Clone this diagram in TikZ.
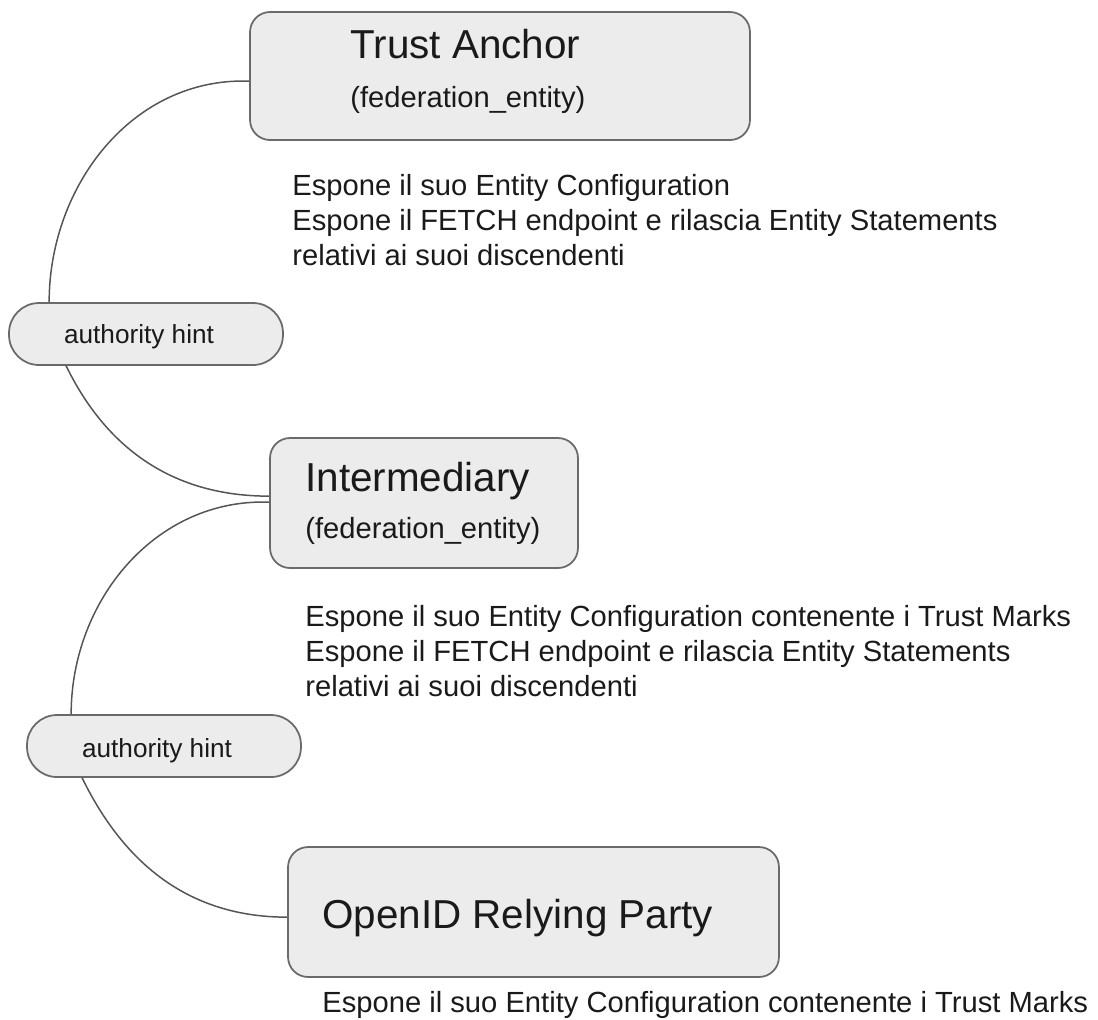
\documentclass[tikz,border=0pt]{standalone}
\usepackage{fontspec}
\setmainfont{Liberation Sans}
\usetikzlibrary{calc}
\definecolor{boxfill}{HTML}{ECECEC}
\definecolor{boxline}{HTML}{6A6A6A}
\definecolor{linkline}{HTML}{555555}
\definecolor{inkcol}{HTML}{1A1A1A}

\begin{document}
\begin{tikzpicture}[x=0.02cm, y=-0.02cm, text=inkcol,
    entity/.style={draw=boxline, line width=1pt, fill=boxfill, rounded corners=0.4cm, inner sep=0pt},
    hint/.style={draw=boxline, line width=1pt, fill=boxfill, rounded corners=0.6cm,
        minimum width=5.48cm, minimum height=1.24cm, inner sep=0pt},
    title/.style={anchor=base west, inner sep=0pt, font=\fontsize{23}{27}\selectfont},
    sub/.style={anchor=base west, inner sep=0pt, font=\fontsize{16.6}{19.8}\selectfont},
    info/.style={anchor=base west, inner sep=0pt, align=left, font=\fontsize{16.6}{19.8}\selectfont},
    hinttext/.style={anchor=base, inner sep=0pt, font=\fontsize{14.9}{18}\selectfont},
    link/.style={draw=linkline, line width=0.85pt}]

    \useasboundingbox (0,0) rectangle (1098,1019);

    % Draw the entity boxes
    \node[entity, minimum width=10cm, minimum height=2.56cm] (ta) at (500,76) {};
    \node[entity, minimum width=6.16cm, minimum height=2.6cm] (inter) at (424,503) {};
    \node[entity, minimum width=9.82cm, minimum height=2.6cm] (rp) at (533.5,912) {};

    % Draw the authority hint pills
    \node[hint] (hint1) at (146,334) {};
    \node[hint] (hint2) at (164,746) {};

    % Draw the links between them
    \draw[link] ($(ta.north west)+(0,70)$) to[out=178, in=90] ($(hint1.north west)+(41,0)$);
    \draw[link] ($(hint1.south west)+(58,0)$) to[out=-64, in=180] ($(inter.north west)+(0,59)$);
    \draw[link] ($(inter.north west)+(0,65)$) to[out=178, in=90] ($(hint2.north west)+(45,0)$);
    \draw[link] ($(hint2.south west)+(56,0)$) to[out=-64, in=180] ($(rp.north west)+(0,71)$);

    % Box texts
    \node[title] (tatitle) at (350,58) {Trust Anchor};
    \node[sub] (tasub) at (350,107) {(federation\_entity)};
    \node[title] (intertitle) at (305,491) {Intermediary};
    \node[sub] (intersub) at (305,538) {(federation\_entity)};
    \node[title] (rptitle) at (322,928) {OpenID Relying Party};
    \node[hinttext] (hint1text) at (139,343) {authority hint};
    \node[hinttext] (hint2text) at (157,757) {authority hint};

    % Descriptions (anchored on the last line)
    \node[info] (tainfo) at (292,265) {Espone il suo Entity Configuration\\
        Espone il FETCH endpoint e rilascia Entity Statements\\
        relativi ai suoi discendenti};
    \node[info] (interinfo) at (305,696) {Espone il suo Entity Configuration contenente i Trust Marks\\
        Espone il FETCH endpoint e rilascia Entity Statements\\
        relativi ai suoi discendenti};
    \node[info] (rpinfo) at (322,1012) {Espone il suo Entity Configuration contenente i Trust Marks};

\end{tikzpicture}
\end{document}
